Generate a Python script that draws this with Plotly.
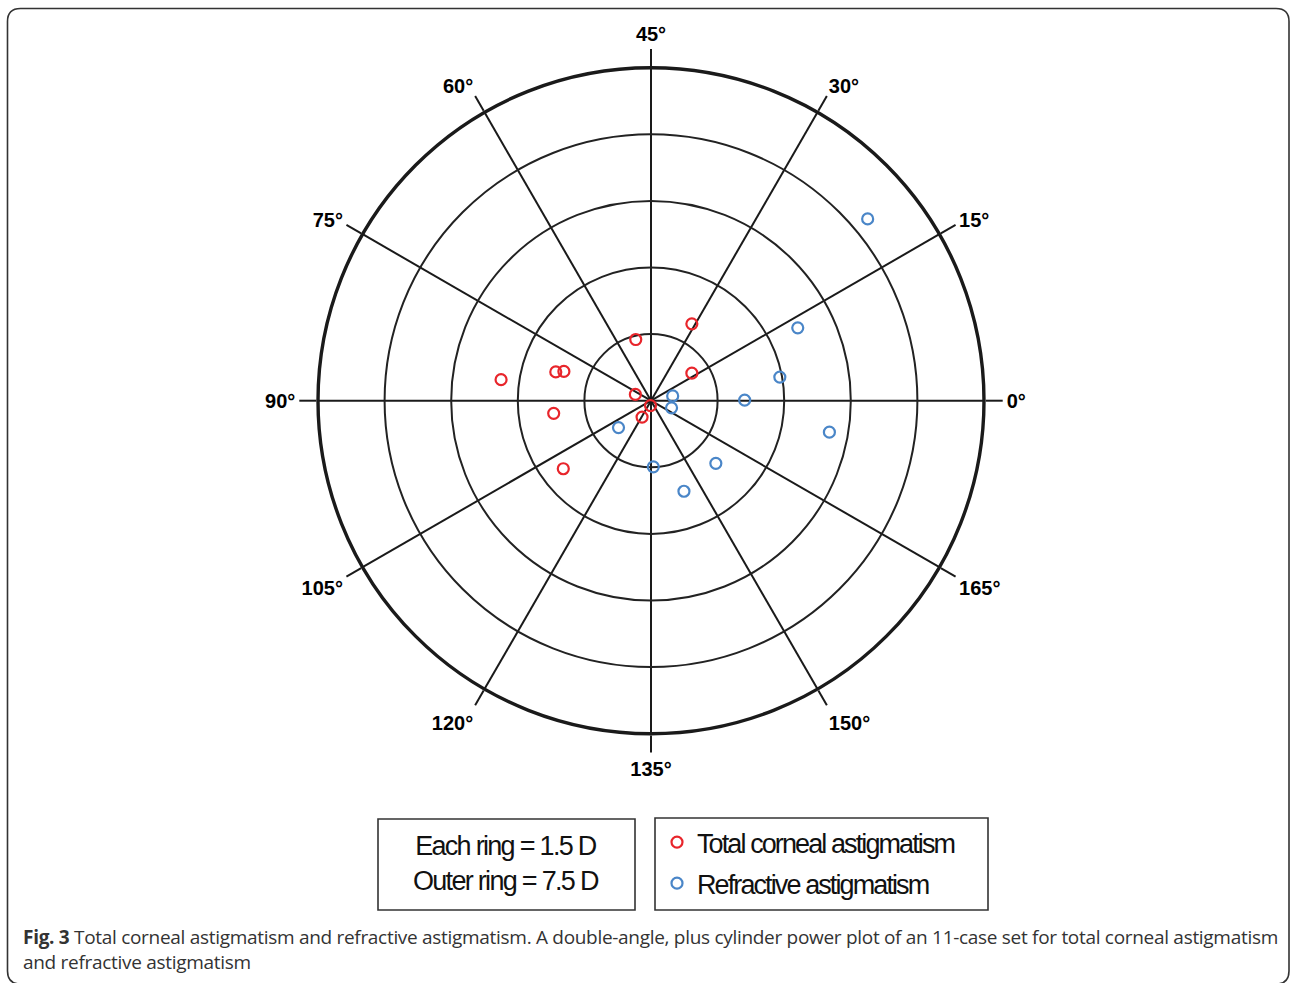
import plotly.graph_objects as go

# ---- data: axis (degrees) and cylinder power (D) ----
tca_axis = [31, 52, 17, 86, 81.6, 80.7, 79, 93.7, 108.9, 120.7, 132]
tca_power = [1.96, 1.42, 1.11, 3.41, 2.24, 2.07, 0.38, 2.21, 2.50, 0.42, 0.11]

ref_axis = [20, 13.2, 5.2, 0.2, 175.0, 6.2, 170.4, 109.8, 136, 145, 158]
ref_power = [6.37, 3.69, 2.95, 2.11, 4.08, 0.50, 0.49, 0.95, 1.49, 2.17, 2.03]

axis_labels = ["0°", "15°", "30°", "45°", "60°", "75°", "90°", "105°", "120°", "135°", "150°", "165°"]
axis_label_deg = [0, 15, 30, 45, 60, 75, 90, 105, 120, 135, 150, 165]
ring_values = [1.5, 3.0, 4.5, 6.0, 7.5]

W, H = 1290, 983
RED = "#e8252b"
BLUE = "#4a86c8"
NARROW = "Liberation Sans, Arial"

def px(x):
    return x / W

def py(y):
    return 1 - y / H

def tight(s, ls):
    return f"<span style='letter-spacing:{ls}px'>{s}</span>"

fig = go.Figure()
fig.add_trace(go.Scatterpolar(
    r=tca_power, theta=[2 * a for a in tca_axis], mode="markers",
    name=tight("Total corneal astigmatism", -1.9), legendgroup="tca",
    marker=dict(symbol="circle-open", size=11, color=RED, line=dict(width=2.2, color=RED)),
))
fig.add_trace(go.Scatterpolar(
    r=ref_power, theta=[2 * a for a in ref_axis], mode="markers",
    name=tight("Refractive astigmatism", -1.9), legendgroup="ref",
    marker=dict(symbol="circle-open", size=11, color=BLUE, line=dict(width=2.2, color=BLUE)),
))

cx, cy, R = 651, 400.7, 333
fig.update_layout(
    width=W, height=H,
    margin=dict(l=0, r=0, t=0, b=0),
    paper_bgcolor="white", plot_bgcolor="white",
    polar=dict(
        domain=dict(x=[px(cx - R), px(cx + R)], y=[py(cy + R), py(cy - R)]),
        bgcolor="white",
        radialaxis=dict(range=[0, 7.5], tickvals=ring_values, showticklabels=False,
                        ticks="", showline=False, gridcolor="#222", gridwidth=1.7),
        angularaxis=dict(rotation=0, direction="counterclockwise",
                         tickmode="array", tickvals=[2 * a for a in axis_label_deg],
                         ticktext=axis_labels, ticks="outside", ticklen=17,
                         tickcolor="#1a1a1a", tickwidth=1.5,
                         showline=True, linecolor="#1a1a1a", linewidth=3.4,
                         gridcolor="#1a1a1a", gridwidth=1.5,
                         tickfont=dict(family="Liberation Sans, Arial", size=20, color="black", weight="bold")),
    ),
    showlegend=True,
    legend=dict(x=px(657), y=py(818), xanchor="left", yanchor="top",
                bgcolor="rgba(0,0,0,0)", borderwidth=0, tracegroupgap=3,
                font=dict(family=NARROW, size=27, color="#111"),
                itemsizing="trace"),
)

shapes = []
# legend boxes
shapes.append(dict(type="rect", xref="paper", yref="paper", x0=px(378), x1=px(635), y0=py(910), y1=py(819),
                   line=dict(color="#333", width=1.6)))
shapes.append(dict(type="rect", xref="paper", yref="paper", x0=px(655), x1=px(988), y0=py(910), y1=py(818),
                   line=dict(color="#333", width=1.6)))
# rounded outer border
x0, x1, y0, y1, rr = 7.5, 1289, 8.5, 984, 13
path = (f"M {px(x0)},{py(y0 + rr)} Q {px(x0)},{py(y0)} {px(x0 + rr)},{py(y0)} "
        f"L {px(x1 - rr)},{py(y0)} Q {px(x1)},{py(y0)} {px(x1)},{py(y0 + rr)} "
        f"L {px(x1)},{py(y1 - rr)} Q {px(x1)},{py(y1)} {px(x1 - rr)},{py(y1)} "
        f"L {px(x0 + rr)},{py(y1)} Q {px(x0)},{py(y1)} {px(x0)},{py(y1 - rr)} Z")
shapes.append(dict(type="path", xref="paper", yref="paper", path=path, line=dict(color="#333", width=1.6)))
fig.update_layout(shapes=shapes)

fig.add_annotation(xref="paper", yref="paper", x=px(506), y=py(863), xanchor="center", yanchor="middle",
                   showarrow=False, align="center",
                   text=tight("Each ring = 1.5 D", -1.7) + "<br>" + tight("Outer ring = 7.5 D", -1.7),
                   font=dict(family=NARROW, size=27, color="#111"))

fig.add_annotation(xref="paper", yref="paper", x=px(21), y=py(922), xanchor="left", yanchor="top",
                   showarrow=False, align="left",
                   text=(tight("<b>Fig. 3</b> Total corneal astigmatism and refractive astigmatism. "
                               "A double-angle, plus cylinder power plot of an 11-case set for total corneal astigmatism", -0.3)
                         + "<br>" + tight("and refractive astigmatism", -0.3)),
                   font=dict(family="Open Sans", size=19, color="#333"))

fig.write_html("out.html", config={"displayModeBar": False},
               post_script="document.body.style.margin='0';document.body.style.padding='0';")
